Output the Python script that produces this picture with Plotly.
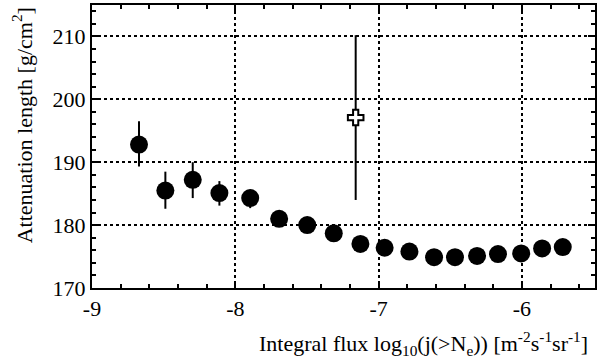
import plotly.graph_objects as go

flux = [-8.672, -8.488, -8.297, -8.111, -7.896, -7.694, -7.498, -7.313, -7.127,
        -6.958, -6.785, -6.613, -6.467, -6.313, -6.167, -6.005, -5.859, -5.715]
att = [192.8, 185.5, 187.2, 185.1, 184.3, 181.0, 180.0, 178.7, 177.0,
       176.4, 175.8, 174.9, 174.9, 175.1, 175.4, 175.5, 176.3, 176.5]
err_plus = [3.7, 3.0, 2.8, 1.9, 1.3, 0, 0, 0, 0, 0, 0, 0, 0, 0, 0, 0, 0, 0]
err_minus = [3.5, 2.9, 2.9, 2.0, 1.6, 0, 0, 0, 0, 0, 0, 0, 0, 0, 0, 0, 0, 0]

extra_flux = [-7.16]
extra_att = [197.1]
extra_err = [13.1]

x_ticks = [-9, -8, -7, -6]
y_ticks = [170, 180, 190, 200, 210]

font_family = "Liberation Serif"

fig = go.Figure()
fig.add_trace(go.Scatter(
    x=extra_flux, y=extra_att, mode="markers",
    marker=dict(symbol="cross", size=13, color="white", line=dict(color="black", width=2)),
    error_y=dict(type="data", array=extra_err, arrayminus=extra_err, color="black", thickness=2, width=0),
    showlegend=False,
))
fig.add_trace(go.Scatter(
    x=flux, y=att, mode="markers",
    marker=dict(symbol="circle", size=18, color="black"),
    error_y=dict(type="data", array=err_plus, arrayminus=err_minus, color="black", thickness=2, width=0),
    showlegend=False,
))

axis_common = dict(
    showline=True, linecolor="black", linewidth=2, mirror="allticks",
    ticks="inside", ticklen=7, tickcolor="black", tickwidth=1.5,
    showgrid=True, gridcolor="black", griddash="dot", gridwidth=1.5,
    zeroline=False,
    tickfont=dict(family=font_family, size=22, color="black"),
)

fig.update_xaxes(
    range=[-9, -5.49], tickvals=x_ticks, ticktext=[str(v) for v in x_ticks],
    minor=dict(dtick=0.2, ticks="inside", ticklen=4, tickcolor="black", tickwidth=1.5, showgrid=False),
    **axis_common,
)
fig.update_yaxes(
    range=[170, 215], tickvals=y_ticks, ticktext=[str(v) for v in y_ticks],
    minor=dict(dtick=2, ticks="inside", ticklen=4, tickcolor="black", tickwidth=1.5, showgrid=False),
    **axis_common,
)

fig.add_annotation(
    text="Integral flux log<sub>10</sub>(j(&gt;N<sub>e</sub>)) [m<sup>-2</sup>s<sup>-1</sup>sr<sup>-1</sup>]",
    xref="paper", yref="paper", x=0.99, y=-0.195, xanchor="right", yanchor="middle",
    showarrow=False, font=dict(family=font_family, size=22, color="black"),
)
fig.add_annotation(
    text="Attenuation length [g/cm<sup>2</sup>]",
    xref="paper", yref="paper", x=-0.1386, y=0.576, xanchor="center", yanchor="middle",
    textangle=-90, showarrow=False, font=dict(family=font_family, size=22, color="black"),
)

fig.update_layout(
    width=599, height=360,
    margin=dict(l=92, r=2, t=5, b=72),
    plot_bgcolor="white", paper_bgcolor="white",
)

fig.write_html("out.html")
